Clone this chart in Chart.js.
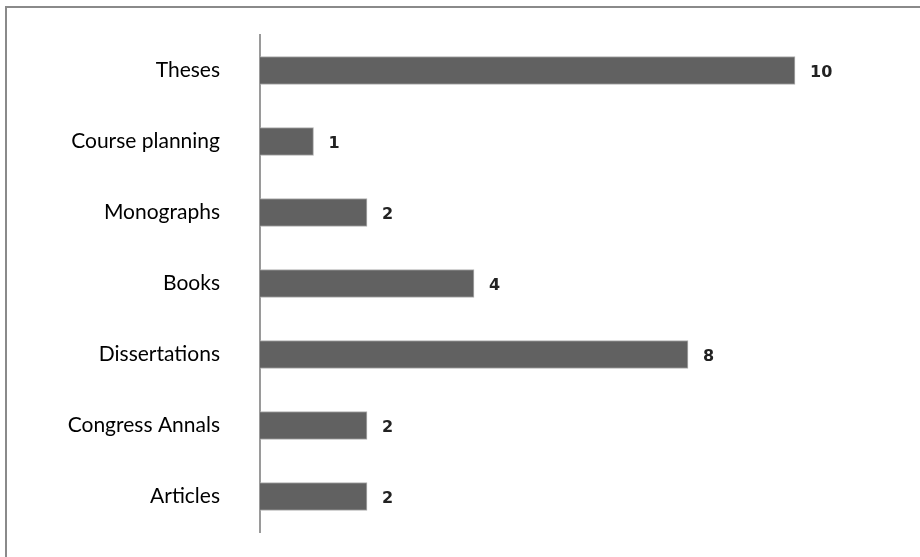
<!DOCTYPE html>
<html>
<head>
<meta charset="utf-8">
<script src="https://cdn.jsdelivr.net/npm/chart.js@4/dist/chart.umd.min.js"></script>
<style>
html,body{margin:0;padding:0;background:#fff;}
#wrap{position:relative;width:920px;height:557px;}
</style>
</head>
<body>
<div id="wrap"><canvas id="c" width="920" height="557"></canvas></div>
<script>
const categories = ["Theses", "Course planning", "Monographs", "Books", "Dissertations", "Congress Annals", "Articles"];
const counts = [10, 1, 2, 4, 8, 2, 2];

const frame = {
  id: 'frame',
  beforeDraw(chart) {
    const ctx = chart.ctx;
    ctx.save();
    ctx.fillStyle = '#fff';
    ctx.fillRect(0, 0, chart.width, chart.height);
    ctx.strokeStyle = '#8a8a8a';
    ctx.lineWidth = 2;
    ctx.beginPath();
    ctx.moveTo(6, chart.height);
    ctx.lineTo(6, 7);
    ctx.lineTo(chart.width, 7);
    ctx.stroke();
    ctx.restore();
  }
};

const valueLabels = {
  id: 'valueLabels',
  afterDatasetsDraw(chart) {
    const ctx = chart.ctx;
    const meta = chart.getDatasetMeta(0);
    ctx.save();
    ctx.font = 'bold 16px "DejaVu Sans"';
    ctx.fillStyle = '#222';
    ctx.textAlign = 'left';
    ctx.textBaseline = 'middle';
    meta.data.forEach((bar, i) => {
      ctx.fillText(String(chart.data.datasets[0].data[i]), bar.x + 15, bar.y + 2);
    });
    ctx.restore();
  }
};

new Chart(document.getElementById('c'), {
  type: 'bar',
  data: {
    labels: categories,
    datasets: [{
      data: counts,
      backgroundColor: '#616161',
      borderColor: '#b0b0b0',
      borderWidth: 1,
      barThickness: 28
    }]
  },
  options: {
    indexAxis: 'y',
    responsive: false,
    animation: false,
    layout: { padding: { top: 35, bottom: 25, left: 0, right: 18 } },
    plugins: { legend: { display: false }, tooltip: { enabled: false } },
    scales: {
      x: { display: false, min: 0, max: 12 },
      y: {
        afterFit(scale) { scale.width = 260; scale.paddingTop = 0; scale.paddingBottom = 0; },
        grid: { display: false, drawTicks: false },
        border: { display: true, color: '#9a9a9a', width: 2 },
        ticks: { padding: 40, color: '#000', font: { family: 'Lato', size: 21 } }
      }
    }
  },
  plugins: [frame, valueLabels]
});
</script>
</body>
</html>
